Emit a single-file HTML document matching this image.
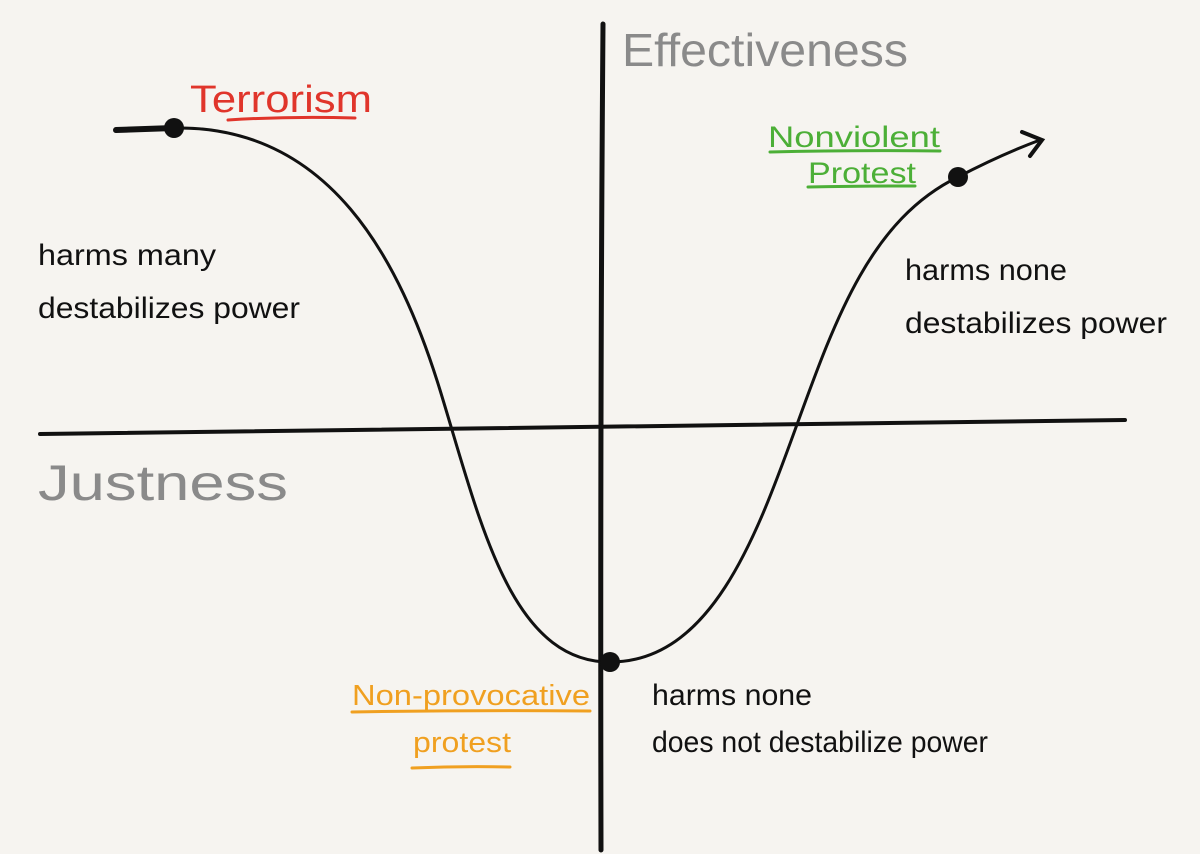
<!DOCTYPE html>
<html><head><meta charset="utf-8"><style>
html,body{margin:0;padding:0;background:#f6f4f0;}
svg{display:block}
text{font-family:"Liberation Sans",sans-serif;}
</style></head><body>
<svg width="1200" height="854" viewBox="0 0 1200 854" xmlns="http://www.w3.org/2000/svg">
<rect width="1200" height="854" fill="#f6f4f0"/>
<g stroke="#111" fill="none" stroke-linecap="round">
<path d="M603,24 Q600,400 601,850" stroke-width="5"/>
<path d="M40,434 Q600,428 1125,420" stroke-width="4"/>
<path d="M116,130 L174,128" stroke-width="6"/>
<path d="M174,128 C330,125 400,260 440,390 C480,520 510,662 610,662 C710,662 755,540 795,430 C835,320 870,220 958,177 Q1000,155 1040,140" stroke-width="3"/>
<path d="M1022,132 L1042,140 L1030,156" stroke-width="4"/>
<path d="M228,120 Q290,116 355,118" stroke="#e0352b" stroke-width="3"/>
<path d="M770,152 Q850,150 940,151" stroke="#4caf37" stroke-width="3"/>
<path d="M808,187 Q860,186 915,186" stroke="#4caf37" stroke-width="3"/>
<path d="M352,712 Q470,710 590,711" stroke="#f0a020" stroke-width="3"/>
<path d="M412,768 Q460,766 510,767" stroke="#f0a020" stroke-width="3"/>
</g>
<g fill="#111">
<circle cx="174" cy="128" r="10"/>
<circle cx="958" cy="177" r="10"/>
<circle cx="610" cy="662" r="10"/>
</g>
<text x="622" y="66" font-size="46" fill="#8a8a8a" textLength="286" lengthAdjust="spacingAndGlyphs">Effectiveness</text>
<text x="38" y="500" font-size="50" fill="#8a8a8a" textLength="250" lengthAdjust="spacingAndGlyphs">Justness</text>
<text x="190" y="112" font-size="38" fill="#e0352b" textLength="182" lengthAdjust="spacingAndGlyphs">Terrorism</text>
<text x="768" y="147" font-size="30" fill="#4caf37" textLength="172" lengthAdjust="spacingAndGlyphs">Nonviolent</text>
<text x="808" y="183" font-size="30" fill="#4caf37" textLength="108" lengthAdjust="spacingAndGlyphs">Protest</text>
<text x="352" y="705" font-size="29" fill="#f0a020" textLength="238" lengthAdjust="spacingAndGlyphs">Non-provocative</text>
<text x="413" y="752" font-size="29" fill="#f0a020" textLength="98" lengthAdjust="spacingAndGlyphs">protest</text>
<g font-size="30" fill="#111">
<text x="38" y="265" textLength="178" lengthAdjust="spacingAndGlyphs">harms many</text>
<text x="38" y="318" textLength="262" lengthAdjust="spacingAndGlyphs">destabilizes power</text>
<text x="905" y="280" textLength="162" lengthAdjust="spacingAndGlyphs">harms none</text>
<text x="905" y="333" textLength="262" lengthAdjust="spacingAndGlyphs">destabilizes power</text>
<text x="652" y="705" textLength="160" lengthAdjust="spacingAndGlyphs">harms none</text>
<text x="652" y="752" textLength="336" lengthAdjust="spacingAndGlyphs">does not destabilize power</text>
</g>
</svg>
</body></html>
